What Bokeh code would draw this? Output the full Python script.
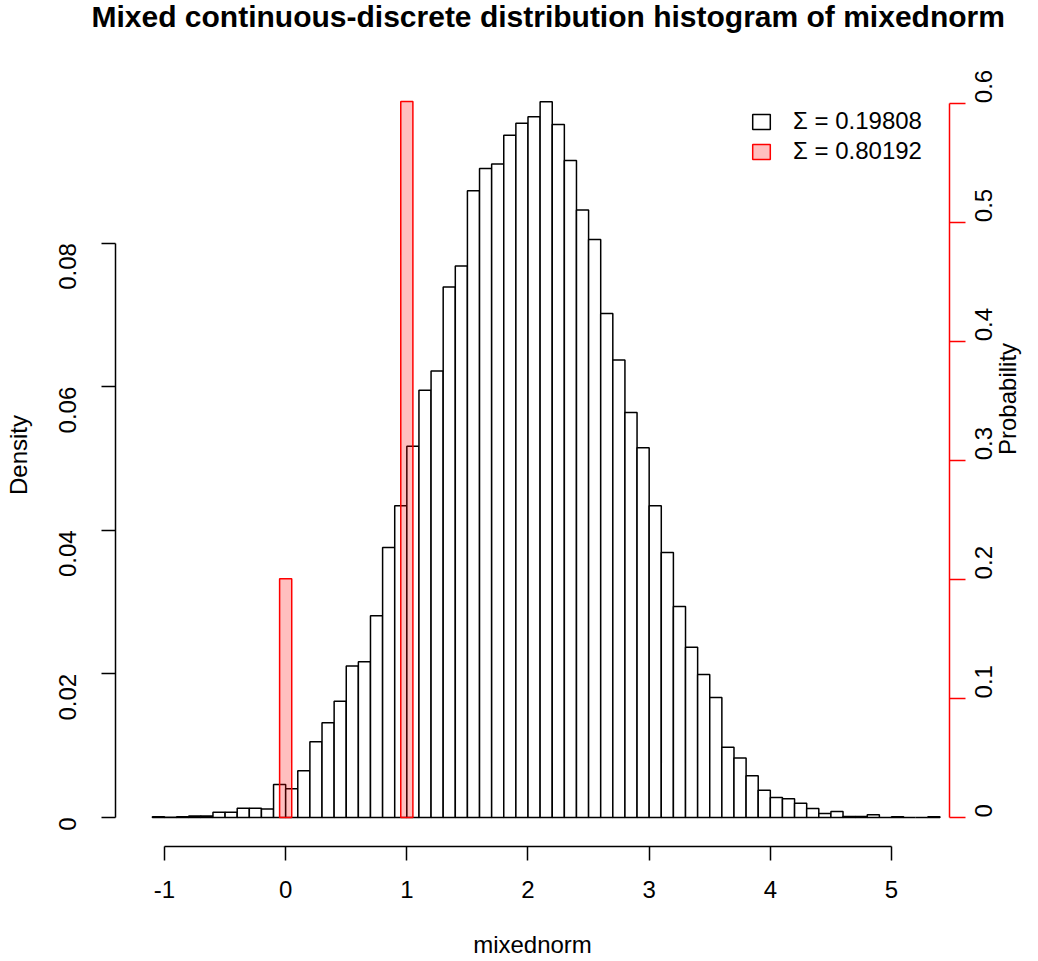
import math
from bokeh.plotting import figure
from bokeh.models import Range1d, LinearAxis, FixedTicker, Legend, LegendItem, ColumnDataSource, Title
from bokeh.embed import file_html
from bokeh.resources import INLINE

# ---------------- data ----------------
breaks = [-1.1, -1.0, -0.9, -0.8, -0.7, -0.6, -0.5, -0.4, -0.3, -0.2, -0.1,
          0.0, 0.1, 0.2, 0.3, 0.4, 0.5, 0.6, 0.7, 0.8, 0.9,
          1.0, 1.1, 1.2, 1.3, 1.4, 1.5, 1.6, 1.7, 1.8, 1.9,
          2.0, 2.1, 2.2, 2.3, 2.4, 2.5, 2.6, 2.7, 2.8, 2.9,
          3.0, 3.1, 3.2, 3.3, 3.4, 3.5, 3.6, 3.7, 3.8, 3.9,
          4.0, 4.1, 4.2, 4.3, 4.4, 4.5, 4.6, 4.7, 4.8, 4.9,
          5.0, 5.1, 5.2, 5.3, 5.4]

density = [0.00012, 0.00003, 0.00012, 0.0002, 0.0002, 0.00074, 0.00074, 0.0013, 0.0013, 0.0012, 0.0046,
           0.0040, 0.0065, 0.01055, 0.0132, 0.0162, 0.0211, 0.0217, 0.0281, 0.0376, 0.0434,
           0.0517, 0.0595, 0.0622, 0.0739, 0.0768, 0.0873, 0.0904, 0.0910, 0.0950, 0.0967,
           0.0976, 0.0997, 0.0965, 0.0915, 0.0846, 0.0805, 0.0702, 0.0637, 0.0564, 0.0515,
           0.0434, 0.0369, 0.0294, 0.0237, 0.0199, 0.0167, 0.0098, 0.0083, 0.0058, 0.0038,
           0.0028, 0.0026, 0.0020, 0.00125, 0.00056, 0.00084, 0.00014, 0.00014, 0.00037, 0.0,
           0.0001, 0.0, 0.0, 0.0001]

discrete_values = [0, 1]
discrete_probs = [0.2005, 0.6014]

x_ticks = [-1, 0, 1, 2, 3, 4, 5]
x_tick_labels = ["-1", "0", "1", "2", "3", "4", "5"]
density_ticks = [0, 0.02, 0.04, 0.06, 0.08]
density_tick_labels = ["0", "0.02", "0.04", "0.06", "0.08"]
prob_ticks = [0, 0.1, 0.2, 0.3, 0.4, 0.5, 0.6]
prob_tick_labels = ["0", "0.1", "0.2", "0.3", "0.4", "0.5", "0.6"]
legend_labels = ["\u03a3 = 0.19808", "\u03a3 = 0.80192"]

title_text = "Mixed continuous-discrete distribution histogram of mixednorm"

FONT = "Liberation Sans"
FS = "24px"

# ---------------- figure ----------------
p = figure(width=1038, height=961, output_backend="svg", toolbar_location=None, title=None,
           x_range=Range1d(-1.4044, 5.4787), y_range=Range1d(-0.00404, 0.10501),
           min_border_left=115, min_border_right=89, min_border_top=63, min_border_bottom=115,
           x_axis_type=None, y_axis_type=None)
p.extra_y_ranges = {"prob": Range1d(-0.02436, 0.6333)}
p.outline_line_color = None
p.background_fill_color = "white"
p.border_fill_color = "white"

hist_src = ColumnDataSource(dict(left=breaks[:-1], right=breaks[1:], top=density))
r_hist = p.quad(left="left", right="right", bottom=0, top="top", source=hist_src,
                fill_color="white", line_color="black", line_width=1.5)

half_w = 0.05
disc_src = ColumnDataSource(dict(left=[v - half_w for v in discrete_values],
                                 right=[v + half_w for v in discrete_values],
                                 top=discrete_probs))
r_disc = p.quad(left="left", right="right", bottom=0, top="top", source=disc_src,
                y_range_name="prob", fill_color="red", fill_alpha=0.25,
                line_color="red", line_width=1.5)


def style_axis(ax, color="black"):
    ax.axis_line_width = 1.5
    ax.axis_line_color = color
    ax.major_tick_line_width = 1.5
    ax.major_tick_line_color = color
    ax.major_tick_in = 0
    ax.minor_tick_line_color = None
    ax.major_label_text_font = FONT
    ax.major_label_text_font_size = FS
    ax.major_label_text_color = "black"
    ax.axis_label_text_font = FONT
    ax.axis_label_text_font_size = FS
    ax.axis_label_text_font_style = "normal"
    ax.axis_label_text_color = "black"


xaxis = LinearAxis(ticker=FixedTicker(ticks=x_ticks), bounds=(-1, 5), axis_label="mixednorm",
                   major_label_overrides=dict(zip(x_ticks, x_tick_labels)))
style_axis(xaxis)
xaxis.major_tick_out = 14
xaxis.major_label_standoff = 20
xaxis.axis_label_standoff = 30
p.add_layout(xaxis, "below")

yaxis = LinearAxis(ticker=FixedTicker(ticks=density_ticks), bounds=(0, 0.08), axis_label="Density",
                   major_label_overrides=dict(zip(density_ticks, density_tick_labels)))
style_axis(yaxis)
yaxis.major_tick_out = 14
yaxis.major_label_orientation = math.pi / 2
yaxis.major_label_standoff = 34
yaxis.axis_label_standoff = 16
p.add_layout(yaxis, "left")

raxis = LinearAxis(y_range_name="prob", ticker=FixedTicker(ticks=prob_ticks), bounds=(0, 0.6),
                   axis_label="Probability",
                   major_label_overrides=dict(zip(prob_ticks, prob_tick_labels)))
style_axis(raxis, color="red")
raxis.major_tick_out = 16
raxis.major_label_orientation = math.pi / 2
raxis.major_label_standoff = 18
raxis.axis_label_standoff = 4
if hasattr(raxis, "axis_label_orientation"):
    raxis.axis_label_orientation = math.pi / 2
p.add_layout(raxis, "right")

legend = Legend(items=[LegendItem(label=legend_labels[0], renderers=[r_hist]),
                       LegendItem(label=legend_labels[1], renderers=[r_disc])],
                location=(635, 681), padding=0, margin=0, spacing=2,
                glyph_width=22, glyph_height=19, label_standoff=21,
                label_text_font=FONT, label_text_font_size=FS, label_text_color="black",
                border_line_color=None, background_fill_alpha=0)
p.add_layout(legend)

# spacer between frame and title, then the title itself
spacer = Title(text=" ", text_font_size="1px", standoff=32)
p.add_layout(spacer, "above")
main_title = Title(text=title_text, align="left", offset=-24, vertical_align="top", standoff=-12,
                   text_font=FONT, text_font_size="30px", text_font_style="bold", text_color="black")
p.add_layout(main_title, "above")

open("out.html", "w").write(file_html(p, INLINE))
